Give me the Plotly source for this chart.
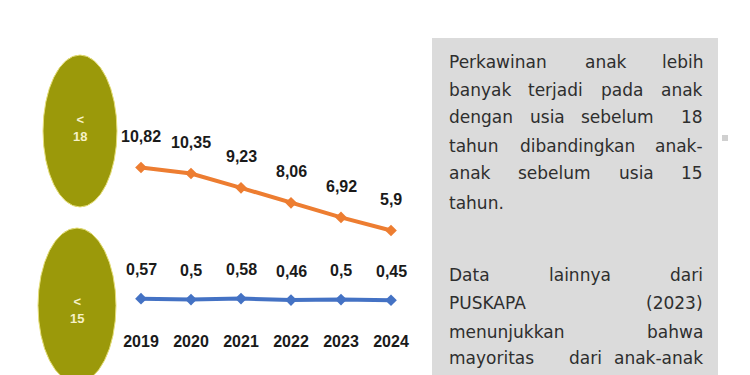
import plotly.graph_objects as go

years = ["2019", "2020", "2021", "2022", "2023", "2024"]
under18 = [10.82, 10.35, 9.23, 8.06, 6.92, 5.9]
under15 = [0.57, 0.5, 0.58, 0.46, 0.5, 0.45]
under18_labels = ["10,82", "10,35", "9,23", "8,06", "6,92", "5,9"]
under15_labels = ["0,57", "0,5", "0,58", "0,46", "0,5", "0,45"]

W, H = 750, 375
OFF = 8  # page body margin
def px(x):
    return (x - OFF) / W
def py(y):
    return 1 - (y - OFF) / H

ORANGE = "#ED7D31"
BLUE = "#4472C4"
OLIVE = "#9B990A"
LABEL_FONT = dict(family="Liberation Sans, Arial, sans-serif",
                  size=16, color="#1a1a1a", weight="bold")

fig = go.Figure()
fig.add_trace(go.Scatter(x=years, y=under18, mode="lines+markers",
                         line=dict(color=ORANGE, width=4),
                         marker=dict(color=ORANGE, size=9, symbol="diamond"),
                         showlegend=False, hoverinfo="skip"))
fig.add_trace(go.Scatter(x=years, y=under15, mode="lines+markers",
                         line=dict(color=BLUE, width=4),
                         marker=dict(color=BLUE, size=9, symbol="diamond"),
                         showlegend=False, hoverinfo="skip"))

annotations = []
for i, (v, t) in enumerate(zip(under18, under18_labels)):
    annotations.append(dict(x=i, y=v, xref="x", yref="y", text=t, showarrow=False,
                            yshift=31, font=LABEL_FONT))
for i, (v, t) in enumerate(zip(under15, under15_labels)):
    annotations.append(dict(x=i, y=v, xref="x", yref="y", text=t, showarrow=False,
                            yshift=29, font=LABEL_FONT))

# Ellipse labels
ELL_FONT = dict(family="Liberation Sans, sans-serif", size=13, color="#F6F1C8", weight="bold")
for xx, yy, t in [(80, 128, "&lt;<br>18"), (77, 310, "&lt;<br>15")]:
    annotations.append(dict(x=px(xx), y=py(yy), xref="paper", yref="paper", text=t,
                            showarrow=False, font=ELL_FONT, align="center",
                            xanchor="center", yanchor="middle"))

# Justified text box, word by word
TXT_FONT = dict(family="DejaVu Sans, sans-serif", size=17, color="#2e2e2e")
L, R = 447, 705
lines = [
    (62, ["Perkawinan", "anak", "lebih"], [None, 606, None]),
    (90, ["banyak", "terjadi", "pada", "anak"], [None, 555, 622, None]),
    (117, ["dengan", "usia", "sebelum", "18"], [None, 547, 617, None]),
    (146, ["tahun", "dibandingkan", "anak-"], [None, 577, None]),
    (173, ["anak", "sebelum", "usia", "15"], [None, 554, 636, None]),
    (203, ["tahun."], [None]),
    (275, ["Data", "lainnya", "dari"], [None, 580, None]),
    (303, ["PUSKAPA", "(2023)"], [None, None]),
    (332, ["menunjukkan", "bahwa"], [None, None]),
    (358, ["mayoritas", "dari", "anak-anak"], [None, 585, None]),
]
for yy, words, mids in lines:
    n = len(words)
    for i, (w, m) in enumerate(zip(words, mids)):
        if i == 0:
            xx, anc = L, "left"
        elif i == n - 1:
            xx, anc = R, "right"
        else:
            xx, anc = m, "center"
        annotations.append(dict(x=px(xx), y=py(yy), xref="paper", yref="paper", text=w,
                                showarrow=False, xanchor=anc, yanchor="middle", font=TXT_FONT))

shapes = [
    dict(type="rect", xref="paper", yref="paper", x0=px(432), x1=px(718), y0=py(390), y1=py(38),
         fillcolor="#DBDBDB", line=dict(width=0), layer="below"),
    dict(type="rect", xref="paper", yref="paper", x0=px(722), x1=px(728), y0=py(141), y1=py(135),
         fillcolor="#D0D0D0", line=dict(width=0), layer="below"),
    dict(type="circle", xref="paper", yref="paper", x0=px(43), x1=px(117), y0=py(207), y1=py(55),
         fillcolor=OLIVE, line=dict(color="#E6DF7A", width=1), layer="below"),
    dict(type="circle", xref="paper", yref="paper", x0=px(38), x1=px(116), y0=py(383), y1=py(228),
         fillcolor=OLIVE, line=dict(color="#E6DF7A", width=1), layer="below"),
]

fig.update_layout(
    width=W, height=H,
    margin=dict(l=0, r=0, t=0, b=0),
    paper_bgcolor="white", plot_bgcolor="white",
    annotations=annotations, shapes=shapes,
    xaxis=dict(domain=[px(116), px(416)], type="category", range=[-0.5, 5.5],
               showgrid=False, zeroline=False, showline=False, ticks="",
               tickfont=LABEL_FONT, ticklabelstandoff=5, fixedrange=True),
    yaxis=dict(domain=[py(325.2), py(101.2)], range=[-1.5, 16], visible=False,
               showgrid=False, zeroline=False, fixedrange=True),
)

fig.write_html("out.html")
